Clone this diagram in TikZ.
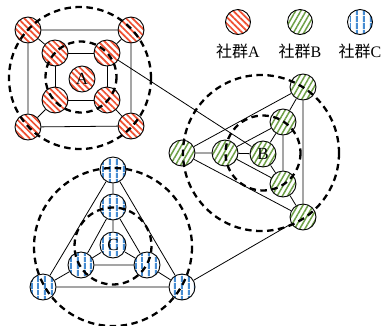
\documentclass[tikz,border=0pt]{standalone}
\usepackage{fontspec}
\setmainfont{Liberation Serif}
\newfontfamily\cjk{Noto Sans CJK SC}
\usetikzlibrary{patterns.meta,backgrounds}
\definecolor{cA}{RGB}{240,80,50}
\definecolor{cB}{RGB}{110,160,70}
\definecolor{cC}{RGB}{70,140,210}
\tikzset{
  vtx/.style={circle,draw=black,line width=0.9pt,minimum size=26pt,inner sep=0pt,preaction={fill=white},font=\fontsize{17}{17}\selectfont},
  va/.style={vtx,pattern={Lines[angle=-45,distance=4.5pt,line width=1.7pt]},pattern color=cA},
  vb/.style={vtx,pattern={Lines[angle=60,distance=4.5pt,line width=1.5pt]},pattern color=cB},
  vc/.style={vtx,pattern={Lines[angle=90,distance=6.5pt,line width=2pt]},pattern color=cC},
  edge/.style={line width=0.8pt},
  ring/.style={line width=2.3pt,dash pattern=on 6.5pt off 4.5pt},
  lbl/.style={font=\fontsize{16}{16}\selectfont}
}
\begin{document}
\begin{tikzpicture}[x=1pt,y=-1pt]
\useasboundingbox (0,0) rectangle (388,325);
% community A
\node[va] (A0) at (82,79) {A};
\node[va] (a1) at (28,30) {};
\node[va] (a2) at (131,30) {};
\node[va] (a3) at (131,126) {};
\node[va] (a4) at (28,127) {};
\node[va] (b1) at (55,53) {};
\node[va] (b2) at (107,53) {};
\node[va] (b3) at (107,100) {};
\node[va] (b4) at (55,100) {};
% community B
\node[vb] (B0) at (263,154) {B};
\node[vb] (c1) at (303,87) {};
\node[vb] (c2) at (182,153) {};
\node[vb] (c3) at (303,217) {};
\node[vb] (d1) at (283,122) {};
\node[vb] (d2) at (225,153) {};
\node[vb] (d3) at (283,184) {};
% community C
\node[vc] (C0) at (113,245) {C};
\node[vc] (e1) at (113,170) {};
\node[vc] (e2) at (43,287) {};
\node[vc] (e3) at (182,287) {};
\node[vc] (f1) at (113,207) {};
\node[vc] (f2) at (81,265) {};
\node[vc] (f3) at (147,265) {};
% legend
\node[va,minimum size=25pt] (LA) at (238,22) {};
\node[vb,minimum size=25pt] (LB) at (300,22) {};
\node[vc,minimum size=25pt] (LC) at (360,22) {};
\node[lbl] (tA) at (238,51) {{\cjk 社群}A};
\node[lbl] (tB) at (300,51) {{\cjk 社群}B};
\node[lbl] (tC) at (360,51) {{\cjk 社群}C};
\begin{scope}[on background layer]
\draw[edge] (a1)--(a2)--(a3)--(a4)--(a1);
\draw[edge] (b1)--(b2)--(b3)--(b4)--(b1);
\draw[edge] (a1)--(b1) (a2)--(b2) (a3)--(b3) (a4)--(b4);
\draw[edge] (c1)--(c2)--(c3)--(c1);
\draw[edge] (d1)--(d2)--(d3)--(d1);
\draw[edge] (c1)--(d1) (c2)--(d2) (c3)--(d3);
\draw[edge] (B0)--(d1) (B0)--(d2) (B0)--(d3);
\draw[edge] (e1)--(e2)--(e3)--(e1);
\draw[edge] (f1)--(f2)--(f3)--(f1);
\draw[edge] (e1)--(f1) (e2)--(f2) (e3)--(f3);
\draw[edge] (C0)--(f1) (C0)--(f2) (C0)--(f3);
\draw[edge] (b2)--(B0);
\draw[edge] (e3)--(c3);
\end{scope}
% dashed rings
\draw[ring] (80,78) circle (71);
\draw[ring] (81,77) circle (35.5);
\draw[ring] (261,153) circle (78);
\draw[ring] (263,153) circle (37.5);
\draw[ring] (113,247) circle (79);
\draw[ring] (113,246) circle (38.5);
\end{tikzpicture}
\end{document}
